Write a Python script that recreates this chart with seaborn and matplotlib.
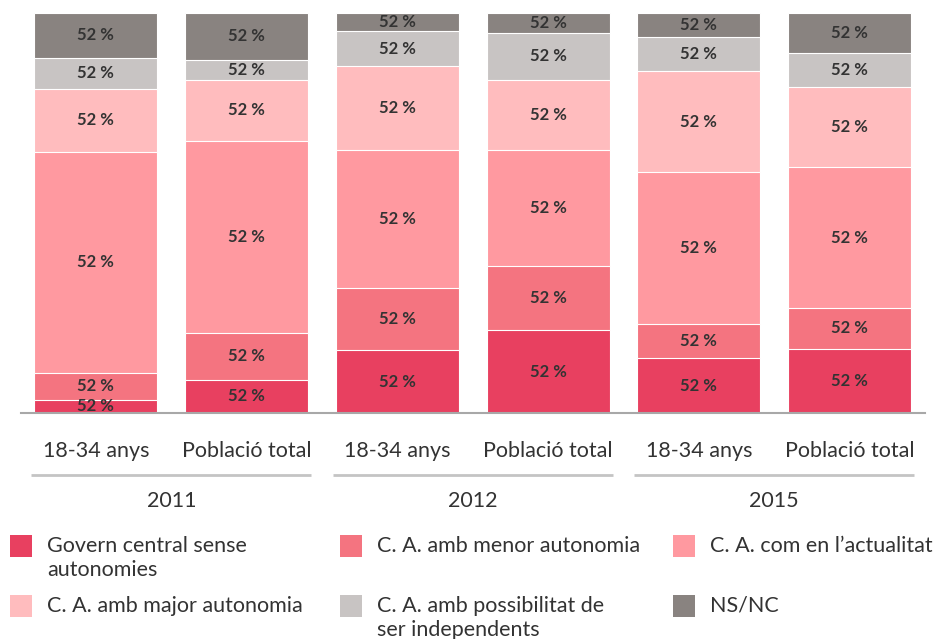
import matplotlib
matplotlib.use("Agg")
import matplotlib.pyplot as plt
from matplotlib.patches import Rectangle
import seaborn as sns
import pandas as pd
import numpy as np

# Survey answers (% of respondents), one value per bar
bars = ["2011 18-34", "2011 total", "2012 18-34", "2012 total", "2015 18-34", "2015 total"]
tick_labels = ["18-34 anys", "Població total"] * 3
years = ["2011", "2012", "2015"]

govern_central = [3.4, 8.4, 15.7, 20.7, 13.8, 16.1]
menor_autonomia = [6.7, 11.7, 15.6, 16.1, 8.6, 10.2]
com_actualitat = [55.2, 47.9, 34.5, 28.9, 37.8, 35.1]
major_autonomia = [15.7, 15.2, 20.8, 17.5, 25.2, 20.1]
possibilitat_indep = [7.8, 5.0, 8.9, 11.8, 8.5, 8.4]
ns_nc = [11.2, 11.8, 4.5, 5.0, 6.1, 10.1]

series_names = [
    "Govern central sense\nautonomies",
    "C. A. amb menor autonomia",
    "C. A. com en l\u2019actualitat",
    "C. A. amb major autonomia",
    "C. A. amb possibilitat de\nser independents",
    "NS/NC",
]
series_values = [govern_central, menor_autonomia, com_actualitat,
                 major_autonomia, possibilitat_indep, ns_nc]
segment_labels = ["52 %"] * 6
colors = ["#E84060", "#F47480", "#FF99A0", "#FFBCBE", "#C8C4C3", "#898380"]

sns.set_theme(style="white")
plt.rcParams["font.family"] = ["Lato", "DejaVu Sans"]

text_color = "#333333"
label_size = 15.5

fig = plt.figure(figsize=(9.48, 6.39), dpi=100)
ax = fig.add_axes([20.5 / 948, 1 - 413.3 / 639, (925 - 20.5) / 948, 400.6 / 639])

vals = np.array(series_values)
cum = np.cumsum(vals, axis=0)

# Stacked bars: draw cumulative totals from the top series downwards
for i in range(len(series_values) - 1, -1, -1):
    df = pd.DataFrame({"bar": bars, "value": cum[i]})
    sns.barplot(data=df, x="bar", y="value", order=bars, color=colors[i],
                saturation=1, width=0.815, edgecolor="#ffffff", linewidth=0.8,
                ax=ax)

# Segment labels
for i in range(len(series_values)):
    for j in range(len(bars)):
        mid = cum[i, j] - vals[i, j] / 2
        ax.text(j, mid, segment_labels[i], ha="center", va="center",
                fontsize=12, fontweight="bold", color=text_color)

ax.set_ylim(0, 100)
ax.set_xlim(-0.5, 5.5)
ax.set_yticks([])
ax.set_ylabel("")
ax.set_xlabel("")
for s in ["top", "left", "right"]:
    ax.spines[s].set_visible(False)
ax.spines["bottom"].set_color("#a8a8a8")
ax.spines["bottom"].set_linewidth(1.5)

ax.set_xticks(range(len(bars)))
ax.set_xticklabels(tick_labels, fontsize=label_size, color=text_color)
ax.tick_params(axis="x", length=0, pad=20)

# Year group lines and labels under the category labels
trans = ax.get_xaxis_transform()
for g, year in enumerate(years):
    center = 2 * g + 0.5
    ax.plot([center - 0.93, center + 0.93], [-0.154, -0.154], transform=trans,
            color="#c4c4c4", linewidth=2, clip_on=False, solid_capstyle="butt")
    ax.text(center, -0.22, year, transform=trans, ha="center", va="center",
            fontsize=label_size, color=text_color)

# Legend: two rows of three swatches
sw = 22
col_x = [10, 340, 673]
row_y = [535, 595]
for k, name in enumerate(series_names):
    r, c = divmod(k, 3)
    x0, y0 = col_x[c], row_y[r]
    fig.add_artist(Rectangle((x0 / 948, 1 - (y0 + sw) / 639), sw / 948, sw / 639,
                             transform=fig.transFigure, facecolor=colors[k],
                             edgecolor="none"))
    fig.text((x0 + 37) / 948, 1 - (y0 + 1) / 639, name, ha="left", va="top",
             fontsize=label_size, color=text_color, linespacing=1.22)

fig.savefig("out.png", dpi=100)
